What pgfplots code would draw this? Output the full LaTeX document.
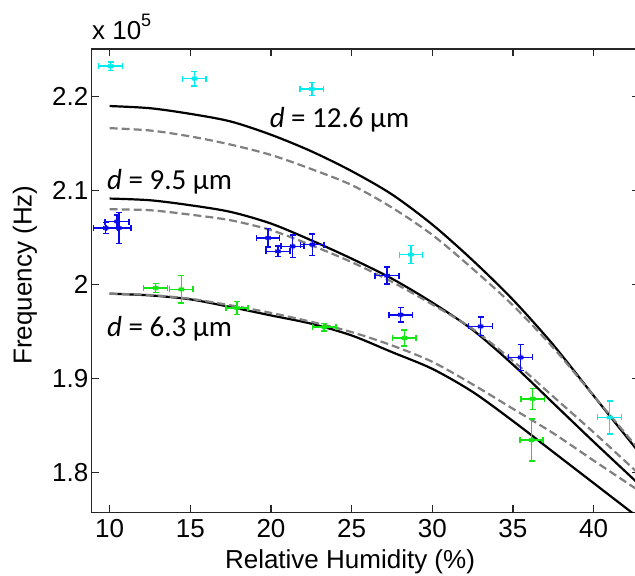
\documentclass[border=0pt]{standalone}
\usepackage{fontspec}
\setmainfont{Liberation Sans}
\newfontfamily\calibri{Carlito}
\usepackage{pgfplots}
\pgfplotsset{compat=1.18}
\usepackage{pgfplotstable}
\definecolor{dgray}{RGB}{128,128,128}
\definecolor{mycyan}{RGB}{0,235,235}
\definecolor{myblue}{RGB}{10,10,235}
\definecolor{mygreen}{RGB}{20,230,20}

\pgfplotstableread{
x y ex ey
10.05 2.2324 0.75 0.0045
15.25 2.2192 0.73 0.0077
22.53 2.2081 0.73 0.0069
28.68 2.0320 0.72 0.0097
41.00 1.8588 0.74 0.0175
}\cyandata
\pgfplotstableread{
x y ex ey
9.75 2.0603 0.74 0.0060
10.46 2.0672 0.74 0.0070
10.57 2.0603 0.76 0.0167
19.82 2.0497 0.72 0.0098
20.43 2.0355 0.74 0.0057
21.34 2.0408 0.72 0.0119
22.57 2.0426 0.73 0.0115
27.20 2.0096 0.74 0.0090
28.04 1.9680 0.73 0.0076
33.00 1.9556 0.74 0.0098
35.48 1.9226 0.74 0.0137
}\bluedata
\pgfplotstableread{
x y ex ey
12.85 1.9965 0.74 0.0050
14.44 1.9950 0.74 0.0147
17.90 1.9752 0.68 0.0067
23.30 1.9549 0.74 0.0040
28.27 1.9432 0.73 0.0085
36.22 1.8786 0.73 0.0112
36.16 1.8347 0.72 0.0225
}\greendata
\pgfplotstableread{
x s12 d12 s9 d9 s6 d6
10   2.1900 2.1665 2.0916 2.0802 1.9904 1.9904
12.5 2.1877 2.1640 2.0898 2.0792 1.9886 1.9890
15   2.1817 2.1577 2.0845 2.0745 1.9844 1.9850
17.5 2.1736 2.1490 2.0774 2.0685 1.9762 1.9780
20   2.1595 2.1380 2.0650 2.0580 1.9673 1.9700
22.5 2.1419 2.1230 2.0472 2.0420 1.9585 1.9605
25   2.1208 2.1060 2.0277 2.0240 1.9460 1.9496
27.5 2.0960 2.0820 2.0064 2.0030 1.9283 1.9354
30   2.0640 2.0530 1.9810 1.9790 1.9105 1.9180
32.5 2.0260 2.0170 1.9520 1.9530 1.8860 1.8940
35   1.9840 1.9780 1.9150 1.9190 1.8550 1.8680
37.5 1.9360 1.9330 1.8740 1.8810 1.8220 1.8420
40   1.8820 1.8820 1.8330 1.8430 1.7890 1.8130
42.8 1.8220 1.8250 1.7880 1.7990 1.7520 1.7810
}\curves

\pgfplotsset{
  pts/.style={only marks, color=#1, mark=asterisk, mark size=1.5pt, line width=0.7pt,
    error bars/.cd, x dir=both, x explicit, y dir=both, y explicit,
    error bar style={line width=0.75pt, draw=#1, solid},
    error mark=-,
    error mark options={rotate=90, mark size=1.5pt, line width=0.75pt, draw=#1, solid}},
  dots/.style={only marks, color=#1, mark=*, mark size=0.9pt},
}

\begin{document}
\begin{tikzpicture}
\begin{axis}[
  at={(0,0)}, anchor=south west,
  scale only axis, width=273.5pt, height=231.6pt,
  xmin=8.884, xmax=42.8, ymin=1.758, ymax=2.2507,
  xtick={10,15,20,25,30,35,40}, ytick={1.8,1.9,2.0,2.1,2.2},
  /pgf/number format/assume math mode=true,
  tick label style={font=\fontsize{13}{15}\selectfont},
  yticklabel style={inner xsep=1.5pt},
  major tick length=3.5pt,
  axis line style={line width=0.6pt, black!85},
  every tick/.style={line width=0.6pt, black!85},
  clip mode=individual,
]
\addplot[black, line width=1.1pt, smooth] table[x=x, y=s12] {\curves};
\addplot[black, line width=1.1pt, smooth] table[x=x, y=s9] {\curves};
\addplot[black, line width=1.1pt, smooth] table[x=x, y=s6] {\curves};
\addplot[dgray, line width=1.1pt, dash pattern=on 4pt off 2pt, smooth] table[x=x, y=d12] {\curves};
\addplot[dgray, line width=1.1pt, dash pattern=on 4pt off 2pt, smooth] table[x=x, y=d9] {\curves};
\addplot[dgray, line width=1.1pt, dash pattern=on 4pt off 2pt, smooth] table[x=x, y=d6] {\curves};

\addplot[pts=mycyan] table[x=x, y=y, x error=ex, y error=ey] {\cyandata};
\addplot[dots=mycyan] table[x=x, y=y] {\cyandata};
\addplot[pts=myblue] table[x=x, y=y, x error=ex, y error=ey] {\bluedata};
\addplot[dots=myblue] table[x=x, y=y] {\bluedata};
\addplot[pts=mygreen] table[x=x, y=y, x error=ex, y error=ey] {\greendata};
\addplot[dots=mygreen] table[x=x, y=y] {\greendata};

\node[anchor=west, inner sep=0pt, font=\calibri\fontsize{14.5}{17}\selectfont] at (axis cs:19.9,2.175) {\textit{d} = 12.6 μm};
\node[anchor=west, inner sep=0pt, font=\calibri\fontsize{14.5}{17}\selectfont] at (axis cs:9.82,2.1096) {\textit{d} = 9.5 μm};
\node[anchor=west, inner sep=0pt, font=\calibri\fontsize{14.5}{17}\selectfont] at (axis cs:9.82,1.9531) {\textit{d} = 6.3 μm};

\node[anchor=base west, inner sep=0pt, font=\fontsize{13}{15}\selectfont] at (axis cs:8.884,2.2603) {x 10\raisebox{0.5em}{\fontsize{9}{9}\selectfont 5}};
\node[anchor=base, inner sep=0pt, font=\fontsize{13}{15}\selectfont] at (axis cs:24.9,1.6985) {Relative Humidity (\%)};
\node[rotate=90, anchor=center, inner sep=0pt, font=\fontsize{13}{15}\selectfont] at (axis cs:4.749,2.0103) {Frequency (Hz)};
\end{axis}
\pgfresetboundingbox
\useasboundingbox (-45.85pt,-31.65pt) rectangle (271.65pt,256.1pt);
\end{tikzpicture}
\end{document}
